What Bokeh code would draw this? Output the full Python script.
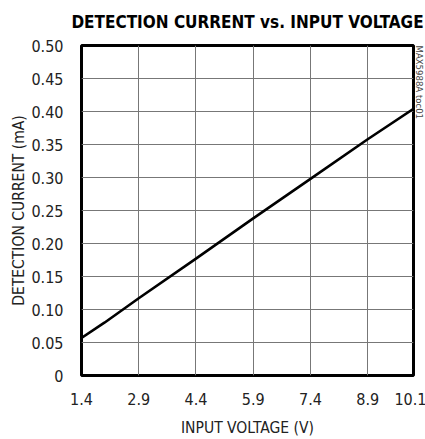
from bokeh.plotting import figure
from bokeh.models import FixedTicker, Range1d, Title
from bokeh.embed import file_html
from bokeh.resources import INLINE

# data
voltage = [1.4, 2.0, 2.9, 4.4, 5.9, 7.4, 8.9, 10.1]
current = [0.057, 0.080, 0.117, 0.177, 0.238, 0.298, 0.358, 0.404]

x_ticks = [1.4, 2.9, 4.4, 5.9, 7.4, 8.9, 10.1]
x_tick_labels = ["1.4", "2.9", "4.4", "5.9", "7.4", "8.9", "10.1"]
y_ticks = [0, 0.05, 0.10, 0.15, 0.20, 0.25, 0.30, 0.35, 0.40, 0.45, 0.50]
y_tick_labels = ["0", "0.05", "0.10", "0.15", "0.20", "0.25", "0.30", "0.35", "0.40", "0.45", "0.50"]
title_text = "DETECTION CURRENT vs. INPUT VOLTAGE"
watermark_text = "MAX5988A toc01"

FONT = "DejaVu Sans Condensed"

p = figure(frame_width=332, frame_height=330, output_backend="svg", toolbar_location=None,
           x_range=Range1d(1.4, 10.1), y_range=Range1d(0, 0.5),
           title=title_text,
           min_border_left=81, min_border_right=10, min_border_top=44, min_border_bottom=55)

p.title.text_font = FONT
p.title.text_font_size = "17px"
p.title.text_font_style = "bold"
p.title.align = "center"
p.title.text_color = "black"
p.title.vertical_align = "top"
p.title.standoff = 23

wm = Title(text=watermark_text, align="left", text_font=FONT, text_font_size="9.5px",
           text_font_style="normal", text_color="#444444", standoff=0)
p.add_layout(wm, "right")

p.line(voltage, current, line_color="black", line_width=2.6)

p.outline_line_color = "black"
p.outline_line_width = 3
p.outline_line_alpha = 1

p.xaxis.ticker = FixedTicker(ticks=x_ticks)
p.xaxis.major_label_overrides = {t: l for t, l in zip(x_ticks, x_tick_labels)}
p.yaxis.ticker = FixedTicker(ticks=y_ticks)
p.yaxis.major_label_overrides = {t: l for t, l in zip(y_ticks, y_tick_labels)}

for ax in (p.xaxis, p.yaxis):
    ax.axis_line_color = None
    ax.major_tick_line_color = None
    ax.minor_tick_line_color = None
    ax.major_label_text_font = FONT
    ax.major_label_text_font_size = "16px"
    ax.major_label_text_color = "#222222"
    ax.axis_label_text_font = FONT
    ax.axis_label_text_font_size = "15.5px"
    ax.axis_label_text_font_style = "normal"
    ax.axis_label_text_color = "#222222"

p.xaxis.axis_label = "INPUT VOLTAGE (V)"
p.yaxis.axis_label = "DETECTION CURRENT (mA)"
p.xaxis.major_label_standoff = 11
p.yaxis.major_label_standoff = 12
p.xaxis.axis_label_standoff = 11
p.yaxis.axis_label_standoff = 0

p.xgrid.grid_line_color = "#777777"
p.ygrid.grid_line_color = "#777777"
p.xgrid.grid_line_width = 1
p.ygrid.grid_line_width = 1
p.xgrid.grid_line_alpha = 1
p.ygrid.grid_line_alpha = 1

p.background_fill_color = "white"
p.border_fill_color = "white"

open("out.html", "w").write(file_html(p, INLINE))
